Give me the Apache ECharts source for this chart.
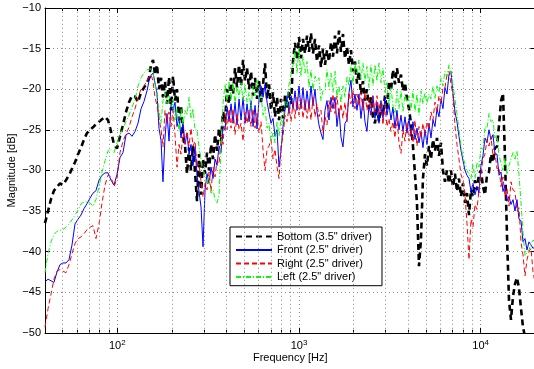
<!DOCTYPE html>
<html><head><meta charset="utf-8">
<script src="https://cdn.jsdelivr.net/npm/echarts@6/dist/echarts.min.js"></script>
<style>html,body{margin:0;padding:0;background:#fff}#c{width:534px;height:369px}</style>
</head><body><div id="c"></div>
<script>
// Frequencies (Hz)
const freq = [40,41.6,43.2,44.8,46.6,48.4,50.2,52.2,54.2,56.3,58.5,60.8,63.1,65.6,68.1,70.8,73.5,76.3,79.3,82.4,85.6,88.9,92.3,95.9,99.6,103.5,107.5,111.7,116,120.5,125.2,130,135.1,140.3,145.7,
149.4,153.3,157.2,161.2,165.4,169.6,174,178.4,183,187.7,
192.6,197.5,202.6,207.8,213.1,218.6,224.2,230,235.9,241.9,
248.2,254.5,261.1,267.8,274.7,281.7,288.9,296.4,304,311.8,
319.8,328,336.4,345.1,353.9,363,372.3,381.9,391.7,401.7,
412.1,422.6,433.5,444.6,456,467.7,479.7,492.1,504.7,517.6,
530.9,544.5,558.5,572.8,587.5,602.6,618,633.9,650.2,666.9,
684,701.5,719.5,738,756.9,776.3,796.3,816.7,837.7,859.2,
881.2,903.8,927,950.8,975.2,1000,1026,1052,1079,1107,
1135,1164,1194,1225,1256,1288,1321,1355,1390,1426,
1462,1500,1538,1578,1618,1660,1702,1746,1791,1837,
1884,1932,1982,2033,2085,2138,2193,2249,2307,2366,
2427,2489,2553,2619,2686,2755,2826,2898,2973,3049,
3127,3207,3290,3374,3461,3550,3641,3734,3830,3928,
4029,4133,4239,4348,4459,4574,4691,4811,4935,5062,
5192,5325,5462,5602,5746,5893,6044,6199,6359,6522,
6690,6861,7037,7218,7403,7593,7788,7988,8193,8404,
8619,8841,9068,9300,9539,9784,10035,10293,10557,10828,
11106,11391,11684,11984,12292,12608,12931,13263,13604,13953,
14312,14679,15056,15443,15840,16246,16664,17092,17531,17981,
18443,18916,19402,19900];

// Magnitudes (dB)
const bottom = [-36.5,-35.0,-33.5,-32.5,-32.0,-31.6,-31.8,-31.2,-30.6,-29.8,-29.0,-28.0,-27.2,-26.2,-25.4,-25.0,-24.7,-24.3,-24.0,-23.7,-23.4,-23.8,-25.2,-26.8,-27.3,-25.8,-24.4,-22.8,-21.6,-20.8,-20.9,-21.6,-20.4,-19.8,-19.2,
-18.6,-17.0,-16.4,-18.2,-17.0,-20.0,-18.6,-21.0,-19.0,-21.8,
-18.5,-22.6,-18.4,-21.4,-20.0,-23.8,-22.0,-26.0,-27.0,-30.4,
-27.2,-30.0,-27.0,-30.2,-33.8,-28.0,-33.0,-28.6,-30.4,-27.8,
-30.0,-26.8,-28.6,-25.6,-27.6,-24.8,-26.4,-22.8,-24.0,-20.0,
-21.8,-18.6,-20.6,-17.4,-19.8,-17.0,-19.6,-16.4,-19.0,-17.4,
-20.0,-17.8,-20.8,-18.6,-21.2,-19.0,-21.6,-19.4,-16.8,-21.2,
-19.4,-22.6,-20.4,-23.4,-21.0,-23.8,-21.2,-23.6,-20.8,-22.4,
-20.2,-21.8,-16.5,-14.3,-16.4,-13.6,-16.2,-13.8,-15.6,-13.4,
-15.4,-13.1,-15.6,-13.8,-16.6,-14.6,-17.3,-15.0,-17.0,-15.2,
-16.6,-14.2,-16.0,-13.4,-15.6,-12.8,-15.4,-13.2,-16.2,-14.8,
-17.0,-15.2,-17.8,-16.6,-19.3,-17.8,-20.6,-19.0,-21.4,-20.0,
-22.4,-21.0,-23.4,-24.2,-22.0,-24.0,-21.8,-23.2,-20.8,-22.5,
-19.0,-20.2,-17.6,-19.4,-17.4,-19.2,-18.2,-20.2,-19.2,-21.2,
-22.4,-24.2,-27.0,-30.5,-34.0,-41.8,-38.5,-31.0,-28.0,-29.4,
-27.0,-28.6,-26.2,-27.6,-26.0,-28.2,-26.6,-30.0,-31.4,-30.0,
-31.6,-30.0,-32.0,-30.4,-32.6,-31.0,-33.2,-31.6,-34.0,-32.8,
-35.5,-32.4,-33.2,-31.2,-32.4,-30.4,-30.0,-32.0,-33.0,-30.6,
-30.2,-28.0,-29.0,-27.2,-27.1,-24.5,-21.5,-20.5,-28.5,-38.0,
-46.0,-48.4,-45.5,-44.0,-43.2,-44.5,-47.0,-49.3,-50.5,-52.0,
-53.0,-53.0,-53.0,-53.0];

const front = [-43.7,-43.4,-43.6,-43.8,-42.5,-41.6,-41.4,-41.4,-41.0,-39.2,-36.6,-36.0,-35.5,-34.7,-34.1,-33.4,-32.8,-32.5,-31.2,-30.6,-30.3,-30.3,-31.2,-31.8,-30.5,-28.4,-27.8,-25.6,-25.4,-25.8,-25.2,-24.2,-22.4,-21.5,-20.2,
-19.0,-18.3,-18.0,-18.2,-20.5,-24.8,-26.3,-31.4,-26.0,-23.0,
-26.4,-21.8,-22.6,-21.6,-24.6,-23.4,-26.0,-24.0,-26.8,-25.4,
-28.0,-26.8,-29.4,-27.2,-30.6,-32.6,-34.5,-39.4,-32.4,-30.4,
-31.6,-29.6,-31.0,-28.6,-29.4,-27.0,-27.8,-24.6,-25.0,-22.2,
-24.0,-21.8,-24.2,-21.6,-24.4,-21.2,-23.8,-21.0,-24.2,-21.8,
-24.0,-21.4,-24.6,-22.0,-24.9,-21.2,-19.6,-21.0,-19.4,-21.6,
-21.8,-24.2,-23.6,-25.8,-25.0,-29.6,-27.6,-24.6,-22.6,-20.8,
-23.0,-20.8,-22.4,-20.2,-22.6,-19.6,-22.4,-19.8,-22.6,-20.2,
-22.4,-19.6,-22.0,-20.0,-22.8,-24.4,-25.4,-26.2,-22.6,-21.4,
-23.8,-21.0,-22.4,-21.0,-24.6,-22.4,-25.9,-27.1,-24.2,-23.8,
-20.4,-18.9,-22.2,-20.6,-22.6,-20.6,-23.6,-21.2,-24.0,-25.2,
-22.0,-23.2,-20.8,-23.6,-21.6,-24.2,-21.4,-23.6,-21.0,-23.2,
-21.8,-23.8,-22.2,-24.8,-22.6,-25.0,-23.2,-25.2,-23.4,-25.4,
-23.6,-25.8,-24.0,-26.2,-24.8,-26.6,-25.2,-27.2,-25.0,-26.8,
-24.2,-26.0,-23.8,-24.6,-22.4,-23.4,-21.2,-22.4,-19.8,-20.6,
-18.2,-17.8,-20.5,-22.8,-24.0,-25.8,-27.5,-28.8,-30.0,-30.6,
-31.0,-32.6,-31.6,-33.0,-32.0,-32.8,-29.4,-28.2,-26.0,-26.6,
-25.0,-26.2,-25.6,-28.0,-28.0,-30.6,-30.2,-32.6,-31.8,-33.8,
-33.2,-34.2,-33.6,-35.0,-33.6,-36.0,-36.2,-38.8,-38.4,-39.8,
-38.8,-39.2,-39.6,-39.4];

const right = [-49.3,-47.0,-45.2,-43.4,-42.4,-42.2,-42.4,-42.6,-41.6,-40.3,-39.0,-38.4,-38.2,-37.8,-37.3,-37.0,-36.8,-38.4,-36.6,-34.0,-31.8,-30.6,-30.8,-32.0,-31.0,-27.8,-26.4,-25.5,-24.7,-23.4,-22.4,-21.0,-20.0,-19.6,-19.0,
-18.5,-18.2,-19.0,-21.0,-22.0,-23.5,-25.0,-27.1,-22.6,-24.0,
-22.8,-24.6,-22.6,-25.6,-29.6,-26.8,-28.0,-25.4,-26.6,-25.2,
-27.0,-24.8,-27.0,-26.4,-29.6,-29.2,-31.4,-33.3,-31.6,-32.4,
-30.2,-32.6,-29.6,-30.8,-28.8,-29.2,-25.8,-26.8,-23.0,-25.0,
-22.4,-24.8,-22.4,-25.6,-23.0,-25.0,-24.2,-26.4,-22.8,-24.2,
-22.6,-24.6,-22.4,-24.8,-23.0,-25.4,-24.0,-27.5,-30.0,-27.4,
-27.0,-26.2,-28.6,-27.4,-29.6,-31.0,-27.0,-25.8,-23.2,-24.0,
-22.2,-24.0,-21.6,-23.6,-21.0,-23.2,-21.2,-23.6,-21.4,-23.6,
-21.6,-23.8,-21.0,-23.4,-21.8,-23.4,-22.6,-25.4,-23.4,-24.4,
-21.4,-22.8,-20.6,-23.0,-20.8,-23.4,-21.8,-23.6,-21.6,-24.0,
-20.4,-21.8,-20.1,-22.4,-20.6,-22.0,-20.4,-22.6,-20.4,-22.6,
-21.2,-23.0,-21.0,-22.8,-20.8,-23.0,-21.6,-24.4,-22.0,-24.6,
-23.6,-25.2,-24.0,-26.0,-23.4,-26.6,-27.9,-25.0,-26.4,-24.0,
-26.4,-24.8,-26.6,-23.8,-27.0,-24.6,-26.0,-24.2,-25.6,-24.0,
-25.0,-22.8,-23.8,-21.6,-22.8,-20.8,-21.8,-19.8,-19.8,-18.2,
-17.8,-18.0,-20.8,-24.5,-26.8,-28.6,-30.5,-31.2,-33.0,-36.5,
-41.0,-36.0,-37.0,-34.2,-34.8,-32.4,-32.2,-28.6,-28.0,-26.2,
-27.0,-25.8,-28.2,-27.8,-29.8,-29.6,-32.0,-30.8,-33.2,-32.2,
-34.4,-31.4,-32.4,-32.6,-35.0,-34.6,-38.8,-40.4,-43.0,-41.0,
-40.0,-39.6,-42.5,-43.8];

const left = [-42.6,-40.2,-38.8,-37.9,-37.5,-37.4,-37.3,-37.0,-36.6,-36.1,-35.5,-34.9,-34.1,-33.9,-33.9,-34.0,-34.4,-33.6,-32.0,-30.2,-28.8,-27.6,-27.4,-27.8,-26.6,-25.6,-24.8,-24.0,-23.2,-22.2,-21.3,-19.6,-18.6,-18.0,-17.6,
-17.8,-17.5,-18.0,-19.3,-20.8,-22.6,-24.2,-21.4,-20.4,-21.8,
-20.8,-22.2,-21.2,-23.8,-22.4,-25.2,-22.4,-24.4,-22.6,-23.2,
-21.0,-23.6,-22.4,-25.0,-25.0,-27.2,-27.4,-30.0,-29.8,-31.4,
-30.8,-32.8,-32.4,-33.6,-34.0,-33.0,-27.0,-21.7,-19.4,-21.6,
-19.0,-21.4,-19.2,-21.8,-19.6,-21.0,-19.2,-21.4,-19.4,-21.6,
-20.4,-22.4,-19.6,-20.8,-18.8,-21.2,-20.8,-23.2,-22.2,-24.8,
-24.2,-26.4,-25.4,-26.6,-24.0,-25.8,-23.6,-24.2,-21.4,-22.0,
-19.4,-19.6,-17.0,-15.2,-18.0,-14.8,-18.4,-16.0,-18.0,-16.6,
-19.8,-17.6,-20.2,-18.4,-19.0,-18.6,-21.4,-20.2,-20.2,-17.6,
-19.8,-18.0,-20.4,-17.8,-21.0,-19.6,-21.7,-19.6,-21.0,-18.4,
-19.6,-17.0,-19.4,-16.8,-18.2,-16.4,-18.8,-16.8,-19.0,-17.2,
-19.8,-17.0,-19.6,-17.0,-19.0,-16.8,-19.2,-17.4,-20.4,-19.2,
-22.0,-19.8,-22.0,-23.0,-20.2,-22.4,-20.2,-22.8,-20.6,-21.6,
-20.8,-22.6,-20.2,-22.8,-20.6,-23.2,-20.2,-21.8,-20.4,-21.8,
-20.6,-21.2,-19.6,-21.2,-19.6,-20.4,-18.6,-19.6,-17.8,-18.4,
-17.0,-17.2,-19.4,-21.2,-23.0,-25.0,-27.0,-28.4,-29.2,-30.0,
-29.8,-31.0,-29.2,-31.0,-29.0,-29.6,-27.2,-27.4,-24.6,-24.8,
-23.0,-24.0,-23.8,-26.0,-25.6,-28.2,-28.0,-30.0,-28.4,-30.4,
-29.4,-29.6,-27.8,-28.6,-27.6,-30.5,-34.0,-37.6,-40.5,-40.4,
-39.8,-39.0,-38.6,-38.8];

const seriesNames = ['Bottom (3.5" driver)','Front (2.5" driver)','Right (2.5" driver)','Left (2.5" driver)'];
const minorGrid = [50,60,70,80,90,200,300,400,500,600,700,800,900,2000,3000,4000,5000,6000,7000,8000,9000];

const FONT = 'Liberation Sans';
const pairs = arr => freq.map((f,i)=>[f, arr[i]]);
const gridDots = {type:[1,3], color:'#8a8a8a', width:1};

const chart = echarts.init(document.getElementById('c'), null, {renderer:'canvas'});
const xCommon = {
  type:'log', logBase:10, min:40, max:20000,
  axisLine:{show:true, lineStyle:{color:'#000', width:1}},
  axisTick:{show:true, inside:true, length:5, lineStyle:{color:'#000'}},
};
const xMinor = pos => ({
  type:'log', logBase:10, min:40, max:20000, position:pos,
  axisLine:{show:false}, splitLine:{show:false}, axisLabel:{show:false},
  axisTick:{show:true, inside:true, length:3, customValues:minorGrid, lineStyle:{color:'#000'}}
});
chart.setOption({
  animation:false,
  backgroundColor:'#fff',
  textStyle:{fontFamily:FONT},
  grid:{left:45, top:8, right:-1.4, bottom:36.2, containLabel:false, outerBoundsMode:'none'},
  xAxis:[
    Object.assign({}, xCommon, {
      position:'bottom',
      name:'Frequency [Hz]', nameLocation:'middle', nameGap:20, nameMoveOverlap:false,
      nameTextStyle:{fontSize:11, color:'#000', fontFamily:FONT},
      splitLine:{show:true, lineStyle:gridDots},
      axisLabel:{
        margin:6, color:'#000', fontFamily:FONT,
        formatter: v => {
          const e = Math.log10(v), r = Math.round(e);
          if (Math.abs(e-r) < 1e-6 && v >= 100) return '{b|10}{s|' + r + '}';
          return '';
        },
        rich:{b:{fontSize:11, fontFamily:FONT, color:'#000'}, s:{fontSize:8, fontFamily:FONT, color:'#000', padding:[0,0,7,0]}}
      }
    }),
    Object.assign({}, xCommon, {position:'top', axisLabel:{show:false}, splitLine:{show:false}}),
    xMinor('bottom'),
    xMinor('top')
  ],
  yAxis:[
    {type:'value', min:-50, max:-10, interval:5, position:'left',
     name:'Magnitude [dB]', nameLocation:'middle', nameGap:28, nameRotate:90, nameMoveOverlap:false,
     nameTextStyle:{fontSize:11, color:'#000', fontFamily:FONT},
     axisLine:{show:true, lineStyle:{color:'#000'}},
     axisTick:{show:true, inside:true, length:5, lineStyle:{color:'#000'}},
     axisLabel:{margin:4, fontSize:11, color:'#000', fontFamily:FONT,
       formatter: v => (v<0?'\u2212':'') + Math.abs(v)},
     splitLine:{show:true, lineStyle:gridDots}},
    {type:'value', min:-50, max:-10, interval:5, position:'right',
     axisLine:{show:true, lineStyle:{color:'#000'}},
     axisTick:{show:true, inside:true, length:5, lineStyle:{color:'#000'}},
     axisLabel:{show:false}, splitLine:{show:false}}
  ],
  legend:{
    data:seriesNames, orient:'vertical', left:230, top:227,
    padding:[4,10,3,5], itemGap:2.3, itemWidth:36, itemHeight:14,
    backgroundColor:'#fff', borderColor:'#000', borderWidth:1, borderRadius:0,
    itemStyle:{opacity:0},
    textStyle:{fontSize:11, color:'#000', fontFamily:FONT},
    selectedMode:false
  },
  series:[
    {type:'line', name:'_grid', data:[], silent:true, z:1,
     markLine:{silent:true, symbol:'none', label:{show:false}, animation:false,
       lineStyle:gridDots, data:minorGrid.map(v=>({xAxis:v}))}},
    {type:'line', name:seriesNames[0], data:pairs(bottom), symbol:'none', z:3,
     lineStyle:{color:'#000', width:2.6, type:[6,4]}, itemStyle:{color:'#000'}},
    {type:'line', name:seriesNames[1], data:pairs(front), symbol:'none', z:3,
     lineStyle:{color:'#0000ff', width:1, type:'solid'}, itemStyle:{color:'#0000ff'}},
    {type:'line', name:seriesNames[2], data:pairs(right), symbol:'none', z:3,
     lineStyle:{color:'#ff0000', width:1, type:[5,3]}, itemStyle:{color:'#ff0000'}},
    {type:'line', name:seriesNames[3], data:pairs(left), symbol:'none', z:3,
     lineStyle:{color:'#00ff00', width:1, type:[5,2,1,2]}, itemStyle:{color:'#00ff00'}}
  ]
});
</script></body></html>
